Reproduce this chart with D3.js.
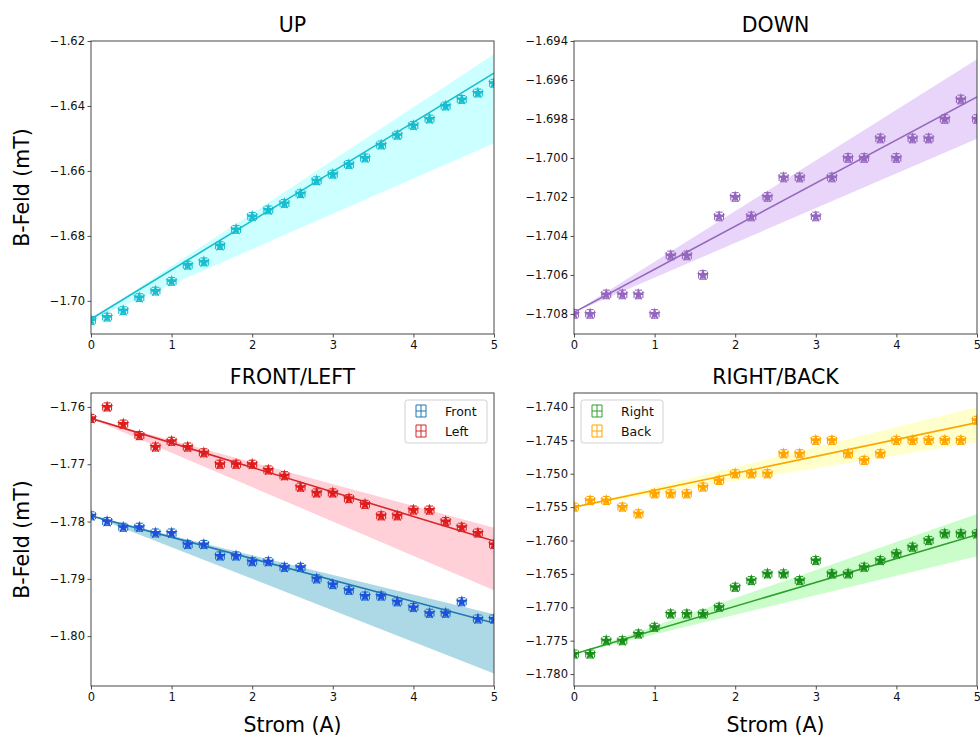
<!DOCTYPE html>
<html>
<head>
<meta charset="utf-8">
<script src="https://cdn.jsdelivr.net/npm/d3@7"></script>
<style>
  body { margin: 0; background: #fff; }
  svg { font-family: "DejaVu Sans", sans-serif; }
</style>
</head>
<body>
<svg id="chart" width="980" height="737"></svg>
<script>
// measurement currents (A)
var current = [0, 0.2, 0.4, 0.6, 0.8, 1.0, 1.2, 1.4, 1.6, 1.8, 2.0, 2.2, 2.4,
               2.6, 2.8, 3.0, 3.2, 3.4, 3.6, 3.8, 4.0, 4.2, 4.4, 4.6, 4.8, 5.0];
var fitX = [0, 5];

// B field readings (mT)
var upVals = [-1.706, -1.705, -1.703, -1.699, -1.697, -1.694, -1.689, -1.688, -1.683,
              -1.678, -1.674, -1.672, -1.670, -1.667, -1.663, -1.661, -1.658, -1.656,
              -1.652, -1.649, -1.646, -1.644, -1.640, -1.638, -1.636, -1.633];
var downVals = [-1.708, -1.708, -1.707, -1.707, -1.707, -1.708, -1.705, -1.705, -1.706,
                -1.703, -1.702, -1.703, -1.702, -1.701, -1.701, -1.703, -1.701, -1.700,
                -1.700, -1.699, -1.700, -1.699, -1.699, -1.698, -1.697, -1.698];
var frontVals = [-1.779, -1.780, -1.781, -1.781, -1.782, -1.782, -1.784, -1.784, -1.786,
                 -1.786, -1.787, -1.787, -1.788, -1.788, -1.790, -1.791, -1.792, -1.793,
                 -1.793, -1.794, -1.795, -1.796, -1.796, -1.794, -1.797, -1.797];
var leftVals = [-1.762, -1.760, -1.763, -1.765, -1.767, -1.766, -1.767, -1.768, -1.770,
                -1.770, -1.770, -1.771, -1.772, -1.774, -1.775, -1.775, -1.776, -1.777,
                -1.779, -1.779, -1.778, -1.778, -1.780, -1.781, -1.782, -1.784];
var rightVals = [-1.777, -1.777, -1.775, -1.775, -1.774, -1.773, -1.771, -1.771, -1.771,
                 -1.770, -1.767, -1.766, -1.765, -1.765, -1.766, -1.763, -1.765, -1.765,
                 -1.764, -1.763, -1.762, -1.761, -1.760, -1.759, -1.759, -1.759];
var backVals = [-1.755, -1.754, -1.754, -1.755, -1.756, -1.753, -1.753, -1.753, -1.752,
                -1.751, -1.750, -1.750, -1.750, -1.747, -1.747, -1.745, -1.745, -1.747,
                -1.748, -1.747, -1.745, -1.745, -1.745, -1.745, -1.745, -1.742];

// fit lines and uncertainty bands, values at I = 0 and I = 5
var upFit = [-1.7056, -1.6299],  upBandLo = [-1.7058, -1.6515],  upBandHi = [-1.7056, -1.6241];
var downFit = [-1.70792, -1.69687], downBandLo = [-1.70792, -1.69901], downBandHi = [-1.70792, -1.69494];
var frontFit = [-1.7790, -1.7977], frontBandLo = [-1.7790, -1.8065], frontBandHi = [-1.7790, -1.7962];
var leftFit = [-1.7620, -1.7834],  leftBandLo = [-1.7620, -1.7920],  leftBandHi = [-1.7620, -1.7811];
var rightFit = [-1.7770, -1.75913], rightBandLo = [-1.7770, -1.76234], rightBandHi = [-1.7770, -1.75602];
var backFit = [-1.7550, -1.74234], backBandLo = [-1.7550, -1.7453],  backBandHi = [-1.7550, -1.7400];

// tick labels
var xTicks = [0, 1, 2, 3, 4, 5];
var upTicks = [-1.70, -1.68, -1.66, -1.64, -1.62];
var downTicks = [-1.708, -1.706, -1.704, -1.702, -1.700, -1.698, -1.696, -1.694];
var flTicks = [-1.80, -1.79, -1.78, -1.77, -1.76];
var rbTicks = [-1.780, -1.775, -1.770, -1.765, -1.760, -1.755, -1.750, -1.745, -1.740];

var svg = d3.select("#chart");

function series(name, vals, fit, lo, hi, color, bandColor, bandOpacity, starColor) {
  return { name: name, vals: vals, fit: fit, lo: lo, hi: hi, color: color,
           bandColor: bandColor, bandOpacity: bandOpacity, starColor: starColor };
}

var panels = [
  { id: "up", title: "UP", left: 91, top: 41, yDomain: [-1.7102, -1.62], ticks: upTicks, fmt: ".2f",
    yErr: 0.0012, ylabel: true, xlabel: false,
    series: [series(null, upVals, upFit, upBandLo, upBandHi, "#17becf", "#00ffff", 0.2, "#17becf")] },
  { id: "down", title: "DOWN", left: 574, top: 41, yDomain: [-1.70903, -1.694], ticks: downTicks, fmt: ".3f",
    yErr: 0.00022, ylabel: false, xlabel: false,
    series: [series(null, downVals, downFit, downBandLo, downBandHi, "#9467bd", "#8a2be2", 0.2, "#9467bd")] },
  { id: "fl", title: "FRONT/LEFT", left: 91, top: 393, yDomain: [-1.8087, -1.75757], ticks: flTicks, fmt: ".2f",
    yErr: 0.0007, ylabel: true, xlabel: true, legend: "right",
    series: [series("Front", frontVals, frontFit, frontBandLo, frontBandHi, "#1f77b4", "#add8e6", 1, "#1f4fe0"),
             series("Left", leftVals, leftFit, leftBandLo, leftBandHi, "#d62728", "#ffc0cb", 0.75, "#e01b1b")] },
  { id: "rb", title: "RIGHT/BACK", left: 574, top: 393, yDomain: [-1.78179, -1.73791], ticks: rbTicks, fmt: ".3f",
    yErr: 0.0006, ylabel: false, xlabel: true, legend: "left",
    series: [series("Right", rightVals, rightFit, rightBandLo, rightBandHi, "#2ca02c", "#98fb98", 0.5, "#1c8c1c"),
             series("Back", backVals, backFit, backBandLo, backBandHi, "#ffa500", "#ffff00", 0.2, "#ffa500")] }
];

var W = 403, H = 293, xErr = 0.055, cap = 3.5;
var star = d3.symbol().type(d3.symbolStar).size(48);
var minus = function(f) { var g = d3.format(f); return function(v) { return g(v).replace("-", "\u2212"); }; };

panels.forEach(function(p) {
  var g = svg.append("g").attr("transform", "translate(" + p.left + "," + p.top + ")");
  var x = d3.scaleLinear().domain([0, 5]).range([0, W]);
  var y = d3.scaleLinear().domain(p.yDomain).range([H, 0]);

  g.append("clipPath").attr("id", "clip-" + p.id)
    .append("rect").attr("width", W).attr("height", H);
  var plot = g.append("g").attr("clip-path", "url(#clip-" + p.id + ")");

  // bands
  p.series.forEach(function(s) {
    var area = d3.area()
      .x(function(d, i) { return x(fitX[i]); })
      .y0(function(d, i) { return y(s.lo[i]); })
      .y1(function(d, i) { return y(s.hi[i]); });
    plot.append("path").datum(fitX)
      .attr("d", area)
      .attr("fill", s.bandColor)
      .attr("fill-opacity", s.bandOpacity)
      .attr("stroke", "none");
  });

  // fit lines
  p.series.forEach(function(s) {
    var line = d3.line()
      .x(function(d, i) { return x(fitX[i]); })
      .y(function(d) { return y(d); });
    plot.append("path").datum(s.fit)
      .attr("d", line)
      .attr("fill", "none")
      .attr("stroke", s.color)
      .attr("stroke-width", 1.6);
  });

  // points with error bars
  p.series.forEach(function(s) {
    var pts = plot.append("g").selectAll("g").data(s.vals)
      .enter().append("g")
        .attr("stroke", s.color)
        .attr("stroke-width", 1.1);
    pts.append("line")
      .attr("x1", function(d, i) { return x(current[i] - xErr); })
      .attr("x2", function(d, i) { return x(current[i] + xErr); })
      .attr("y1", function(d) { return y(d); })
      .attr("y2", function(d) { return y(d); });
    pts.append("line")
      .attr("x1", function(d, i) { return x(current[i]); })
      .attr("x2", function(d, i) { return x(current[i]); })
      .attr("y1", function(d) { return y(d - p.yErr); })
      .attr("y2", function(d) { return y(d + p.yErr); });
    [-1, 1].forEach(function(sg) {
      pts.append("line")
        .attr("x1", function(d, i) { return x(current[i] + sg * xErr); })
        .attr("x2", function(d, i) { return x(current[i] + sg * xErr); })
        .attr("y1", function(d) { return y(d) - cap; })
        .attr("y2", function(d) { return y(d) + cap; });
      pts.append("line")
        .attr("x1", function(d, i) { return x(current[i]) - cap; })
        .attr("x2", function(d, i) { return x(current[i]) + cap; })
        .attr("y1", function(d) { return y(d + sg * p.yErr); })
        .attr("y2", function(d) { return y(d + sg * p.yErr); });
    });
    pts.append("path")
      .attr("d", star)
      .attr("transform", function(d, i) { return "translate(" + x(current[i]) + "," + y(d) + ")"; })
      .attr("fill", s.starColor)
      .attr("stroke", "none");
  });

  // axes
  var xa = g.append("g").attr("transform", "translate(0," + H + ")")
    .call(d3.axisBottom(x).tickValues(xTicks).tickFormat(d3.format("d")).tickSizeOuter(0).tickSize(3.5));
  var ya = g.append("g")
    .call(d3.axisLeft(y).tickValues(p.ticks).tickFormat(minus(p.fmt)).tickSizeOuter(0).tickSize(3.5));
  [xa, ya].forEach(function(a) {
    a.select(".domain").remove();
    a.selectAll("line").attr("stroke", "#222").attr("stroke-width", 0.8);
    a.selectAll("text").attr("font-size", 11.5).attr("fill", "#111")
      .attr("font-family", "DejaVu Sans, sans-serif");
  });
  ya.selectAll("text").attr("x", -6);
  xa.selectAll("text").attr("y", 7);

  g.append("rect").attr("width", W).attr("height", H)
    .attr("fill", "none").attr("stroke", "#333").attr("stroke-width", 0.9);

  g.append("text").attr("x", W / 2).attr("y", -9)
    .attr("text-anchor", "middle").attr("font-size", 20.5).text(p.title);

  if (p.ylabel) {
    g.append("text")
      .attr("transform", "translate(" + (-p.left + 29) + "," + (H / 2) + ") rotate(-90)")
      .attr("text-anchor", "middle").attr("font-size", 20.5).text("B-Feld (mT)");
  }
  if (p.xlabel) {
    g.append("text").attr("x", W / 2).attr("y", H + 46)
      .attr("text-anchor", "middle").attr("font-size", 20.5).text("Strom (A)");
  }

  // legend
  if (p.legend) {
    var lx = p.legend === "right" ? W - 89 : 7;
    var lg = g.append("g").attr("transform", "translate(" + lx + ",7)");
    lg.append("rect").attr("width", 82).attr("height", 43).attr("rx", 2.5)
      .attr("fill", "#fff").attr("fill-opacity", 0.8)
      .attr("stroke", "#ccc").attr("stroke-width", 0.9);
    p.series.forEach(function(s, k) {
      var cy = 11 + k * 20, cx = 16;
      var e = lg.append("g").attr("stroke", s.color).attr("stroke-width", 1);
      e.append("line").attr("x1", cx - 5).attr("x2", cx + 5).attr("y1", cy).attr("y2", cy);
      e.append("line").attr("x1", cx).attr("x2", cx).attr("y1", cy - 6).attr("y2", cy + 6);
      e.append("line").attr("x1", cx - 5).attr("x2", cx - 5).attr("y1", cy - 6).attr("y2", cy + 6);
      e.append("line").attr("x1", cx + 5).attr("x2", cx + 5).attr("y1", cy - 6).attr("y2", cy + 6);
      e.append("line").attr("x1", cx - 5).attr("x2", cx + 5).attr("y1", cy - 6).attr("y2", cy - 6);
      e.append("line").attr("x1", cx - 5).attr("x2", cx + 5).attr("y1", cy + 6).attr("y2", cy + 6);
      lg.append("text").attr("x", 40).attr("y", cy + 4.5)
        .attr("font-size", 12.5).attr("fill", "#111").text(s.name);
    });
  }
});
</script>
</body>
</html>
